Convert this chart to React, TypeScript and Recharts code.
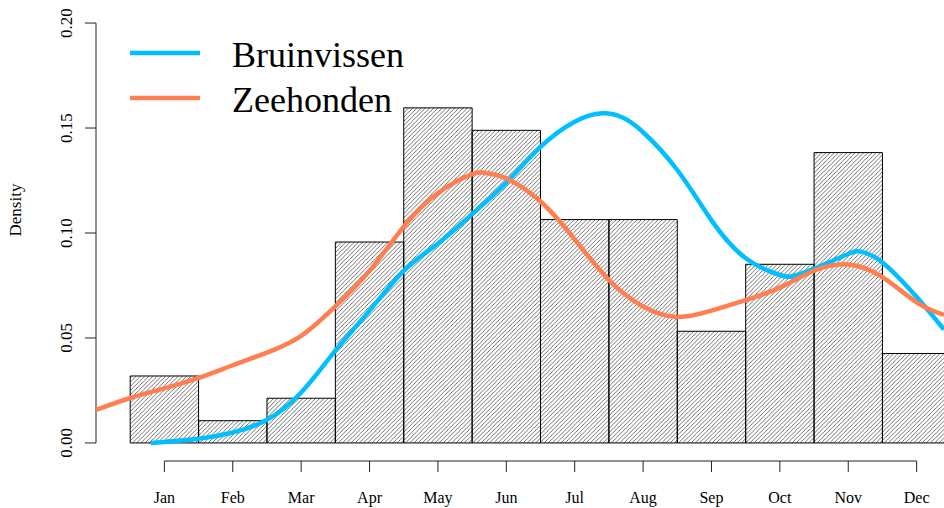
import React from 'react';
import {
  ComposedChart, Line, XAxis, YAxis, ReferenceArea, ReferenceLine, Legend,
} from 'recharts';

const MONTHS = ['Jan', 'Feb', 'Mar', 'Apr', 'May', 'Jun', 'Jul', 'Aug', 'Sep', 'Oct', 'Nov', 'Dec'];

// histogram densities per month (counts / 94)
const BIN_DENSITY = [0.0319, 0.0106, 0.0213, 0.0957, 0.1596, 0.1489, 0.1064, 0.1064, 0.0532, 0.0851, 0.1383, 0.0426];

const BRUIN_X = [0.8, 1.0, 1.5, 2.0, 2.5, 3.0, 3.5, 4.0, 4.5, 5.0, 5.5, 6.0, 6.5, 7.0, 7.4, 7.7, 8.0, 8.5, 9.0, 9.5, 10.0, 10.2, 10.5, 11.0, 11.2, 11.5, 12.0, 12.4];
const BRUIN_Y = [0.0, 0.0005, 0.002, 0.005, 0.011, 0.024, 0.044, 0.063, 0.082, 0.095, 0.109, 0.124, 0.141, 0.153, 0.157, 0.155, 0.148, 0.130, 0.106, 0.088, 0.080, 0.0795, 0.083, 0.090, 0.091, 0.086, 0.0695, 0.054];

const ZEE_X = [0.0, 0.5, 1.0, 1.5, 2.0, 2.5, 3.0, 3.5, 4.0, 4.5, 5.0, 5.5, 5.7, 6.0, 6.5, 7.0, 7.5, 8.0, 8.5, 9.0, 9.5, 10.0, 10.5, 11.0, 11.5, 12.0, 12.4];
const ZEE_Y = [0.0157, 0.0214, 0.026, 0.031, 0.037, 0.043, 0.051, 0.065, 0.082, 0.103, 0.119, 0.128, 0.1286, 0.126, 0.115, 0.097, 0.0776, 0.065, 0.060, 0.063, 0.068, 0.074, 0.082, 0.085, 0.079, 0.067, 0.061];

const Y_TICKS = [0, 0.05, 0.1, 0.15, 0.2];
const X_TICKS = [1, 2, 3, 4, 5, 6, 7, 8, 9, 10, 11, 12];

const Y_MIN = -0.0086;
const Y_MAX = 0.2086;

const bruinData = BRUIN_X.map((x, i) => ({ x, y: BRUIN_Y[i] }));
const zeeData = ZEE_X.map((x, i) => ({ x, y: ZEE_Y[i] }));

const FONT = '"Liberation Serif", "Times New Roman", serif';
const AXIS = '#222';

const XTick = ({ x, payload }: any) => (
  <g>
    <line x1={x} x2={x} y1={461} y2={472} stroke={AXIS} />
    <text x={x} y={503} textAnchor="middle" fontSize={16} fontFamily={FONT} fill="#000">
      {MONTHS[payload.value - 1]}
    </text>
  </g>
);

const YTick = ({ y, payload }: any) => (
  <g>
    <line x1={85} x2={96} y1={y} y2={y} stroke={AXIS} />
    <text x={72} y={y} transform={`rotate(-90, 72, ${y})`} textAnchor="middle" fontSize={17} fontFamily={FONT} fill="#000">
      {payload.value.toFixed(2)}
    </text>
  </g>
);

const LegendBox = ({ payload }: any) => (
  <svg width={340} height={100}>
    {(payload || []).map((p: any, i: number) => (
      <g key={p.value}>
        <line x1={10} x2={80} y1={33 + i * 45} y2={33 + i * 45} stroke={p.color} strokeWidth={4.5} />
        <text x={112} y={47 + i * 45} fontSize={36} fontFamily={FONT} fill="#000">{p.value}</text>
      </g>
    ))}
  </svg>
);

export default function App() {
  return (
    <div style={{ position: 'absolute', left: 0, top: 0, width: 944, height: 508, background: '#fff' }}>
      <svg width={0} height={0} style={{ position: 'absolute' }}>
        <defs>
          <pattern id="hatch" patternUnits="userSpaceOnUse" width={4.2} height={4.2}>
            <path d="M-1.05,1.05 l2.1,-2.1 M0,4.2 l4.2,-4.2 M3.15,5.25 l2.1,-2.1" stroke="#333" strokeWidth={0.7} />
          </pattern>
        </defs>
      </svg>
      <ComposedChart width={944} height={508} margin={{ top: 5, right: 0, bottom: 0, left: 0 }}>
        <XAxis
          type="number"
          dataKey="x"
          domain={[0, 12.4]}
          allowDataOverflow
          ticks={X_TICKS}
          interval={0}
          axisLine={false}
          tickLine={false}
          height={47}
          tick={<XTick />}
        />
        <YAxis
          type="number"
          domain={[Y_MIN, Y_MAX]}
          allowDataOverflow
          ticks={Y_TICKS}
          interval={0}
          axisLine={false}
          tickLine={false}
          width={96}
          tick={<YTick />}
          label={(
            <text x={23} y={235} transform="rotate(-90, 23, 235)" textAnchor="middle" fontSize={17} fontFamily={FONT} fill="#000">
              Density
            </text>
          )}
        />
        {BIN_DENSITY.map((h, i) => (
          <ReferenceArea
            key={MONTHS[i]}
            x1={i + 0.5}
            x2={i + 1.5}
            y1={0}
            y2={h}
            fill="url(#hatch)"
            fillOpacity={1}
            stroke="#000"
            strokeWidth={1}
            ifOverflow="hidden"
          />
        ))}
        <ReferenceLine segment={[{ x: 0, y: 0 }, { x: 0, y: 0.2 }]} stroke={AXIS} ifOverflow="visible" />
        <ReferenceLine segment={[{ x: 1, y: Y_MIN }, { x: 12, y: Y_MIN }]} stroke={AXIS} ifOverflow="visible" />
        <Line
          data={bruinData}
          dataKey="y"
          name="Bruinvissen"
          type="natural"
          stroke="#00BFFF"
          strokeWidth={4.5}
          dot={false}
          isAnimationActive={false}
        />
        <Line
          data={zeeData}
          dataKey="y"
          name="Zeehonden"
          type="natural"
          stroke="#FF7F50"
          strokeWidth={4.5}
          dot={false}
          isAnimationActive={false}
        />
        <Legend
          layout="vertical"
          align="center"
          verticalAlign="middle"
          wrapperStyle={{ left: 120, top: 20, width: 340 }}
          content={<LegendBox />}
        />
      </ComposedChart>
    </div>
  );
}
